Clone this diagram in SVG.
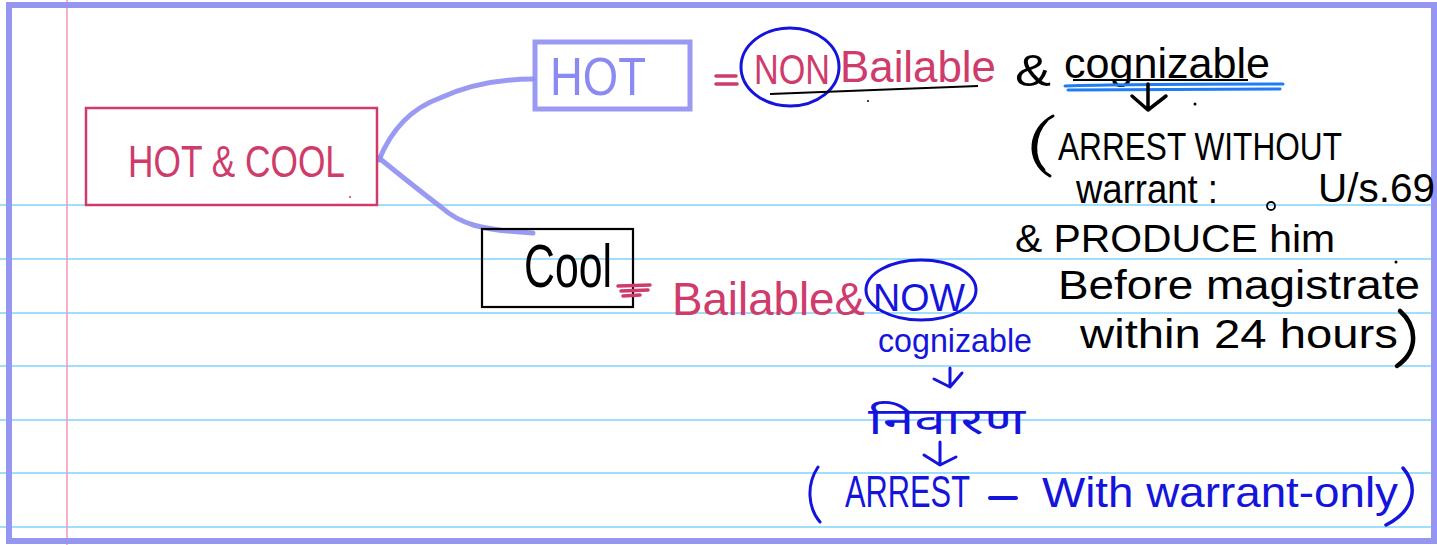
<svg xmlns="http://www.w3.org/2000/svg" width="1437" height="545" viewBox="0 0 1437 545">
  <style>
    text { font-family: "Liberation Sans", "Noto Sans", Arial, sans-serif; }
    .pink { fill: #cf3b6b; }
    .ink { fill: #000000; }
    .pen { fill: #1414dc; }
    .lav { fill: #8a8af2; }
    .rule { stroke: #7fd3fb; stroke-width: 1.5; }
    .conn { fill: none; stroke: #8f8ff3; stroke-width: 5; stroke-linecap: round; stroke-opacity: 0.9; }
    .stroke-ink { fill: none; stroke: #000; stroke-linecap: round; stroke-linejoin: round; }
    .stroke-pen { fill: none; stroke: #1414dc; stroke-linecap: round; stroke-linejoin: round; }
    .stroke-pink { fill: none; stroke: #cf3b6b; stroke-linecap: round; }
    .deva { font-family: "Noto Sans Devanagari", "Lohit Devanagari", "Noto Sans", "FreeSans", sans-serif; }
  </style>

  <!-- paper -->
  <rect x="0" y="0" width="1437" height="545" fill="#ffffff"/>
  <g id="ruling">
    <line class="rule" x1="0" y1="205" x2="1437" y2="205"/>
    <line class="rule" x1="0" y1="259" x2="1437" y2="259"/>
    <line class="rule" x1="0" y1="313" x2="1437" y2="313"/>
    <line class="rule" x1="0" y1="366" x2="1437" y2="366"/>
    <line class="rule" x1="0" y1="420" x2="1437" y2="420"/>
    <line class="rule" x1="0" y1="473" x2="1437" y2="473"/>
    <line class="rule" x1="0" y1="527" x2="1437" y2="527"/>
    <line x1="67" y1="0" x2="67" y2="545" stroke="#f597b4" stroke-width="1.5"/>
  </g>
  <rect x="9" y="5" width="1425" height="536" fill="none" stroke="#9595f2" stroke-width="6"/>

  <!-- connectors -->
  <g id="connectors">
    <path class="conn" d="M379 160 C392 128 412 108 440 98 C470 84 500 79 533 79"/>
    <path class="conn" d="M379 158 C400 175 425 195 441 207 C460 224 480 230 533 233"/>
  </g>

  <!-- root node -->
  <g id="node-hot-cool">
    <rect x="86" y="108" width="291" height="97" fill="none" stroke="#cf3b6b" stroke-width="2.5"/>
    <text class="pink" x="128" y="177" font-size="44" textLength="217" lengthAdjust="spacingAndGlyphs">HOT &amp; COOL</text>
    <circle cx="350" cy="197" r="1" fill="#cf3b6b"/>
  </g>

  <!-- hot node -->
  <g id="node-hot">
    <rect x="535" y="42" width="155" height="67" fill="none" stroke="#8f8ff3" stroke-width="5" stroke-opacity="0.9"/>
    <text class="lav" x="550" y="95" font-size="54" textLength="96" lengthAdjust="spacingAndGlyphs">HOT</text>
  </g>

  <!-- cool node -->
  <g id="node-cool">
    <rect x="482" y="229" width="151" height="78" fill="none" stroke="#000" stroke-width="2.2"/>
    <text class="ink" x="524" y="287" font-size="62" textLength="88" lengthAdjust="spacingAndGlyphs">Cool</text>
  </g>

  <!-- notes on hot -->
  <g id="note-hot">
    <path class="stroke-pink" d="M716 76 L736 76 M716 84 L737 84" stroke-width="3.5"/>
    <ellipse cx="790" cy="67" rx="49" ry="39" fill="none" stroke="#1414dc" stroke-width="3"/>
    <text class="pink" x="754" y="84" font-size="42" textLength="76" lengthAdjust="spacingAndGlyphs">NON</text>
    <text class="pink" x="840" y="82" font-size="44" textLength="156" lengthAdjust="spacingAndGlyphs">Bailable</text>
    <path d="M770 94 L978 86" fill="none" stroke="#000" stroke-width="2"/>
    <circle cx="868" cy="101" r="1" fill="#000"/>
    <text class="ink" x="1015" y="86" font-size="44" textLength="36" lengthAdjust="spacingAndGlyphs">&amp;</text>
    <text class="ink" x="1064" y="78" font-size="43" textLength="206" lengthAdjust="spacingAndGlyphs">cognizable</text>
    <path d="M1073 80 L1248 80" fill="none" stroke="#000" stroke-width="2"/>
    <path d="M1065 86 C1120 84 1230 84 1283 84 M1068 90 C1130 90 1220 89 1280 89" fill="none" stroke="#1e7cf5" stroke-width="3" stroke-linecap="round"/>
    <path class="stroke-ink" d="M1148 84 L1148 110 M1132 96 L1148 110 L1166 96" stroke-width="3.5"/>
    <circle cx="1195" cy="104" r="1.5" fill="#000"/>
    <path class="stroke-ink" d="M1053 116 C1030 128 1024 160 1050 176 M1047 120 C1033 135 1032 158 1044 170" stroke-width="3"/>
    <text class="ink" x="1058" y="160" font-size="38" textLength="284" lengthAdjust="spacingAndGlyphs">ARREST WITHOUT</text>
    <text class="ink" x="1076" y="203" font-size="40" textLength="142" lengthAdjust="spacingAndGlyphs">warrant :</text>
    <circle cx="1271" cy="206" r="4" fill="none" stroke="#000" stroke-width="1.8"/>
    <text class="ink" x="1318" y="202" font-size="40" textLength="117" lengthAdjust="spacingAndGlyphs">U/s.69</text>
    <text class="ink" x="1015" y="252" font-size="38" textLength="320" lengthAdjust="spacingAndGlyphs">&amp; PRODUCE him</text>
    <text class="ink" x="1058" y="299" font-size="40" textLength="362" lengthAdjust="spacingAndGlyphs">Before magistrate</text>
    <circle cx="1396" cy="262" r="1.5" fill="#000"/>
    <text class="ink" x="1080" y="348" font-size="40" textLength="318" lengthAdjust="spacingAndGlyphs">within 24 hours</text>
    <path class="stroke-ink" d="M1400 311 C1416 325 1420 350 1397 366" stroke-width="4.5"/>
  </g>

  <!-- notes on cool -->
  <g id="note-cool">
    <path class="stroke-pink" d="M618 286 L650 285 M621 291 L648 290 M623 296 L640 295" stroke-width="3.5"/>
    <text class="pink" x="672" y="315" font-size="46" textLength="193" lengthAdjust="spacingAndGlyphs">Bailable&amp;</text>
    <ellipse cx="921" cy="290" rx="55" ry="30" fill="none" stroke="#1414dc" stroke-width="3"/>
    <text class="pen" x="873" y="311" font-size="38" textLength="92" lengthAdjust="spacingAndGlyphs">NOW</text>
    <text class="pen" x="878" y="352" font-size="34" textLength="154" lengthAdjust="spacingAndGlyphs">cognizable</text>
    <path class="stroke-pen" d="M950 368 L950 387 M934 379 L950 387 L962 373" stroke-width="3"/>
    <text class="pen deva" x="868" y="434" font-size="36" textLength="157" lengthAdjust="spacingAndGlyphs">निवारण</text>
    <path class="stroke-pen" d="M940 442 L940 464 M924 455 L940 465 L956 457" stroke-width="3"/>
    <path class="stroke-pen" d="M818 467 C806 485 808 508 820 522" stroke-width="3"/>
    <text class="pen" x="845" y="507" font-size="44" textLength="125" lengthAdjust="spacingAndGlyphs">ARREST</text>
    <line x1="990" y1="498" x2="1016" y2="498" stroke="#1414dc" stroke-width="4" stroke-linecap="round"/>
    <text class="pen" x="1042" y="507" font-size="42" textLength="356" lengthAdjust="spacingAndGlyphs">With warrant-only</text>
    <path class="stroke-pen" d="M1403 468 C1418 485 1416 510 1386 525" stroke-width="3.5"/>
  </g>
</svg>
